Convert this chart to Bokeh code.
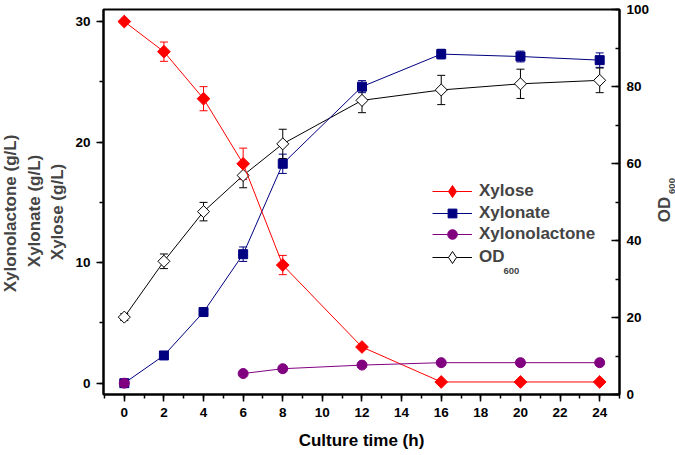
import math
from bokeh.plotting import figure
from bokeh.layouts import row
from bokeh.models import (Range1d, LinearAxis, SingleIntervalTicker, Whisker, TeeHead,
                          ColumnDataSource, Legend, LegendItem, Label)
from bokeh.embed import file_html
from bokeh.resources import INLINE

# ---- data ----
time_h = [0, 2, 4, 6, 8, 12, 16, 20, 24]
xylose = [30.0, 27.5, 23.6, 18.2, 9.8, 3.0, 0.1, 0.1, 0.1]
xylose_err = [0.0, 0.8, 1.0, 1.3, 0.8, 0.2, 0.1, 0.1, 0.1]
xylonate = [0.0, 2.3, 5.9, 10.7, 18.2, 24.6, 27.3, 27.1, 26.8]
xylonate_err = [0.0, 0.1, 0.2, 0.6, 0.8, 0.5, 0.4, 0.45, 0.6]
xylonolactone = [0.0, float("nan"), float("nan"), 0.8, 1.2, 1.5, 1.7, 1.7, 1.7]
od600 = [20.1, 34.6, 47.5, 56.9, 65.1, 76.4, 79.1, 80.7, 81.6]
od600_err = [0.9, 1.9, 2.4, 3.2, 3.8, 3.2, 3.8, 3.8, 3.2]

series_names = ["Xylose", "Xylonate", "Xylonolactone", "OD"]
left_label_lines = ["Xylonolactone (g/L)", "Xylonate (g/L)", "Xylose (g/L)"]
x_label = "Culture time (h)"

FONT = "Liberation Sans"
RED, NAVY, PURPLE = "#FF0000", "#000080", "#800080"
H = 455

src = ColumnDataSource(dict(
    t=time_h,
    xylose=xylose, xylose_lo=[v - e for v, e in zip(xylose, xylose_err)],
    xylose_hi=[v + e for v, e in zip(xylose, xylose_err)],
    xylonate=xylonate, xylonate_lo=[v - e for v, e in zip(xylonate, xylonate_err)],
    xylonate_hi=[v + e for v, e in zip(xylonate, xylonate_err)],
    lactone=xylonolactone,
    od=od600, od_lo=[v - e for v, e in zip(od600, od600_err)],
    od_hi=[v + e for v, e in zip(od600, od600_err)],
))

# page layout: [left title strip 0..68][main plot 68..652][right title strip 652..675]
LW, RW = 68, 23
FL, FB = 103, 394   # main frame left / bottom in page pixels (frames are aligned in the row)

def strip(width):
    f = figure(width=width, height=H, output_backend="svg", toolbar_location=None,
               x_range=Range1d(0, 1), y_range=Range1d(0, 1), min_border=0,
               x_axis_type=None, y_axis_type=None)
    f.outline_line_color = None
    f.background_fill_color = "white"
    f.border_fill_color = "white"
    return f

left_fig = strip(LW)
for txt, cx, cy in zip(left_label_lines, [9.5, 34.0, 56.5], [213, 210.5, 211.5]):
    left_fig.add_layout(Label(x=cx, y=FB - cy, x_units="screen", y_units="screen", text=txt,
                              angle=math.pi / 2, text_font=FONT, text_font_style="bold",
                              text_font_size="17px", text_align="center", text_baseline="middle"))

right_fig = strip(RW)
x0 = 675 - RW
right_fig.add_layout(Label(x=664.3 - x0, y=FB - 209, x_units="screen", y_units="screen", text="OD",
                           angle=math.pi / 2, text_font=FONT, text_font_style="bold",
                           text_font_size="17px", text_align="center", text_baseline="alphabetic"))
right_fig.add_layout(Label(x=671 - x0, y=FB - 185.5, x_units="screen", y_units="screen", text="600",
                           angle=math.pi / 2, text_font=FONT, text_font_style="bold",
                           text_font_size="9.5px", text_align="center", text_baseline="alphabetic"))

p = figure(width=675 - LW - RW, height=H, output_backend="svg", toolbar_location=None,
           x_range=Range1d(-1.05, 25.0), y_range=Range1d(-0.94, 31.0),
           min_border_left=FL - LW, min_border_right=x0 - 622, min_border_top=9,
           min_border_bottom=H - FB)
p.extra_y_ranges = {"od": Range1d(0, 100)}
p.xgrid.visible = False
p.ygrid.visible = False
p.outline_line_color = "black"
p.outline_line_width = 2
p.background_fill_color = "white"
p.border_fill_color = "white"

def style_axis(ax):
    ax.axis_line_width = 2
    ax.axis_line_color = "black"
    ax.major_tick_line_width = 1.5
    ax.minor_tick_line_width = 1.5
    ax.major_tick_line_color = "black"
    ax.minor_tick_line_color = "black"
    ax.major_label_text_font = FONT
    ax.major_label_text_font_style = "bold"
    ax.major_label_text_font_size = "13.5px"
    ax.major_label_text_color = "black"
    ax.axis_label_text_font = FONT
    ax.axis_label_text_font_style = "bold"
    ax.axis_label_text_font_size = "17px"
    ax.axis_label_text_color = "black"

xa = p.xaxis[0]
xa.ticker = SingleIntervalTicker(interval=2, num_minor_ticks=2)
style_axis(xa)
xa.major_tick_out = 7
xa.major_tick_in = 0
xa.minor_tick_out = 4
xa.minor_tick_in = 0
xa.major_label_standoff = 6
xa.axis_label = x_label
xa.axis_label_standoff = 11

ya = p.yaxis[0]
ya.ticker = SingleIntervalTicker(interval=10, num_minor_ticks=2)
style_axis(ya)
ya.major_tick_out = 7
ya.major_tick_in = 0
ya.minor_tick_out = 4
ya.minor_tick_in = 0
ya.major_label_standoff = 6

ra = LinearAxis(y_range_name="od", ticker=SingleIntervalTicker(interval=20, num_minor_ticks=2))
style_axis(ra)
ra.major_tick_out = 0
ra.major_tick_in = 8
ra.minor_tick_out = 0
ra.minor_tick_in = 4
ra.major_label_standoff = 7
p.add_layout(ra, "right")

# error bars
def whisker(lo, hi, color, yname="default"):
    w = Whisker(base="t", lower=lo, upper=hi, source=src, line_color=color, line_width=1,
                upper_head=TeeHead(size=8, line_color=color, line_width=1),
                lower_head=TeeHead(size=8, line_color=color, line_width=1),
                level="underlay", y_range_name=yname)
    p.add_layout(w)

whisker("xylose_lo", "xylose_hi", RED)
whisker("xylonate_lo", "xylonate_hi", NAVY)
whisker("od_lo", "od_hi", "black", "od")

# series (OD first, so it sits beneath the concentration curves)
l_od = p.line("t", "od", source=src, line_color="black", line_width=1, y_range_name="od")
k_od = p.scatter("t", "od", source=src, marker="diamond", size=6,
                 fill_color="white", line_color="black", line_width=1, y_range_name="od")
m_od = p.scatter("t", "od", source=src, marker="square", angle=math.pi / 4, size=8.5,
                 fill_color="white", line_color="black", line_width=1, y_range_name="od")
l_xn = p.line("t", "xylonate", source=src, line_color=NAVY, line_width=1)
m_xn = p.scatter("t", "xylonate", source=src, marker="square", size=9,
                 fill_color=NAVY, line_color=NAVY)
l_xs = p.line("t", "xylose", source=src, line_color=RED, line_width=1)
k_xs = p.scatter("t", "xylose", source=src, marker="diamond", size=6,
                 fill_color=RED, line_color=RED)
m_xs = p.scatter("t", "xylose", source=src, marker="square", angle=math.pi / 4, size=9,
                 fill_color=RED, line_color=RED)
l_lc = p.line("t", "lactone", source=src, line_color=PURPLE, line_width=1)
m_lc = p.scatter("t", "lactone", source=src, marker="circle", size=10,
                 fill_color=PURPLE, line_color=PURPLE)

# legend: one box per row so each marker can have its own size
row_centers = [191, 213, 234, 257]
glyph_heights = [30, 22, 24, 30]
row_renderers = [[l_xs, k_xs], [l_xn, m_xn], [l_lc, m_lc], [l_od, k_od]]
for name, c, gh, rends in zip(series_names, row_centers, glyph_heights, row_renderers):
    lg = Legend(items=[LegendItem(label=name, renderers=rends)],
                location=(432 - FL, FB - (c + gh / 2)), padding=0, margin=0,
                border_line_color=None, background_fill_alpha=0,
                glyph_width=40, glyph_height=gh, label_height=gh, spacing=0,
                label_standoff=7, label_text_font=FONT, label_text_font_style="bold",
                label_text_font_size="17px")
    p.add_layout(lg)

# subscript for legend OD
p.add_layout(Label(x=503 - FL, y=FB - 270, x_units="screen", y_units="screen", text="600",
                   text_font=FONT, text_font_style="bold", text_font_size="9.5px",
                   text_align="left", text_baseline="alphabetic"))

page = row(left_fig, p, right_fig, spacing=0)
open("out.html", "w").write(file_html(page, INLINE))
